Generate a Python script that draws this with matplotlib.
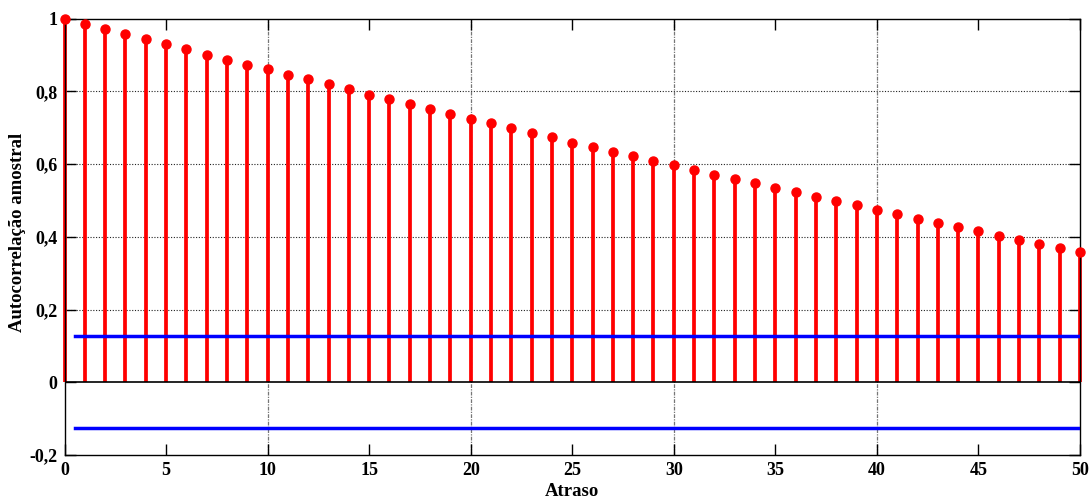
import matplotlib
matplotlib.use("Agg")
import matplotlib.pyplot as plt
import numpy as np

lags = list(range(51))
acf = [1.000, 0.985, 0.971, 0.957, 0.944, 0.929, 0.916, 0.901, 0.887, 0.873,
       0.860, 0.846, 0.833, 0.819, 0.805, 0.791, 0.778, 0.765, 0.751, 0.738,
       0.724, 0.712, 0.699, 0.686, 0.673, 0.659, 0.646, 0.634, 0.621, 0.608,
       0.596, 0.583, 0.570, 0.558, 0.547, 0.534, 0.522, 0.510, 0.498, 0.486,
       0.474, 0.462, 0.450, 0.438, 0.426, 0.415, 0.402, 0.391, 0.380, 0.368,
       0.357]
conf_bound = 0.1265
conf_x = [0.5, 50]
xticks = [0, 5, 10, 15, 20, 25, 30, 35, 40, 45, 50]
yticks = [-0.2, 0, 0.2, 0.4, 0.6, 0.8, 1.0]
ytick_labels = ["-0,2", "0", "0,2", "0,4", "0,6", "0,8", "1"]
xlabel = "Atraso"
ylabel = "Autocorrelação amostral"

plt.rcParams['font.family'] = ['Liberation Serif', 'DejaVu Serif']
plt.rcParams['font.weight'] = 'bold'

fig = plt.figure(figsize=(10.92, 5.03), dpi=100)
ax = fig.add_axes([0.0591, 0.0954, 0.9299, 0.8678])

ax.set_xlim(0, 50)
ax.set_ylim(-0.2, 1.0)

# grid
ax.set_yticks(yticks)
ax.set_yticklabels(ytick_labels)
ax.set_xticks(xticks)
ax.set_xticklabels([str(t) for t in xticks])
for y in yticks[1:-1]:
    if y == 0:
        continue
    ax.axhline(y, color='#222222', linestyle=(0, (1, 1.5)), linewidth=0.8, zorder=0)
for x in xticks:
    if x % 10 == 0 and 0 < x < 50:
        ax.axvline(x, color='#777777', linestyle=(0, (3, 1, 1, 1)), linewidth=0.9, zorder=0)

# stems
ml, sl, bl = ax.stem(lags, acf, basefmt='k-')
plt.setp(sl, color='red', linewidth=2.7)
plt.setp(ml, color='red', markersize=6.5, clip_on=False, zorder=4)
plt.setp(bl, color='black', linewidth=1.2)
sl.set_clip_on(False)

# confidence bounds
ax.plot(conf_x, [conf_bound, conf_bound], color='blue', linewidth=2.5, zorder=3)
ax.plot(conf_x, [-conf_bound, -conf_bound], color='blue', linewidth=2.5, zorder=3)

ax.tick_params(direction='in', length=8, width=1, top=True, right=True,
               labelsize=13, pad=5)
for lab in ax.get_xticklabels() + ax.get_yticklabels():
    lab.set_fontweight('bold')
for sp in ax.spines.values():
    sp.set_linewidth(1.0)

ax.set_xlabel(xlabel, fontsize=13.5, fontweight='bold', va='center')
ax.set_ylabel(ylabel, fontsize=13.5, fontweight='bold', va='center')
ax.xaxis.set_label_coords(0.5, -0.0847)
ax.yaxis.set_label_coords(-0.0468, 0.51)

fig.savefig("out.png", dpi=100)
